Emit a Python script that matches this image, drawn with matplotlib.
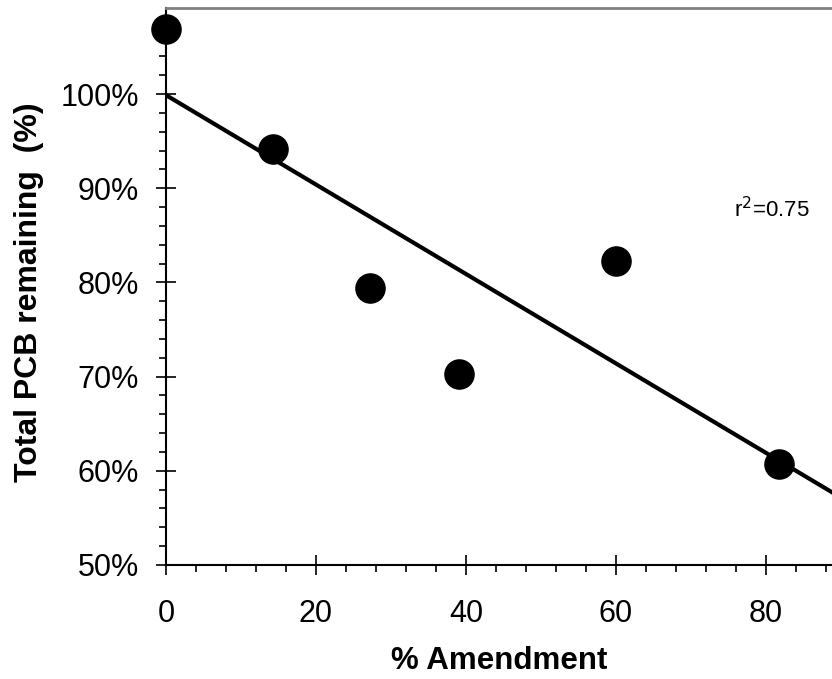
import numpy as np
import matplotlib
matplotlib.use("Agg")
from matplotlib import pyplot as plt
from matplotlib.ticker import MultipleLocator, FuncFormatter

plt.rcParams['font.family'] = ['Liberation Sans', 'DejaVu Sans']

# % amendment vs total PCB remaining (%)
amendment = [0, 14.3, 27.2, 39.1, 60.0, 81.7]
pcb_remaining = [106.9, 94.2, 79.4, 70.3, 82.3, 60.7]
r2_text = "r$^2$=0.75"

fig = plt.figure(figsize=(8.32, 6.79), dpi=100)
ax = fig.add_axes([166 / 832, 1 - 565 / 679, 1 - 166 / 832, (565 - 7.5) / 679])

xmax = 88.8
slope, intercept = np.polyfit(amendment, pcb_remaining, 1)
xfit = np.array([0, xmax])
ax.plot(xfit, intercept + slope * xfit, color="black", lw=3, zorder=2)
ax.plot(amendment, pcb_remaining, "o", color="black", ms=21, zorder=3, clip_on=False)

ax.text(75.8, 86.9, r2_text, fontsize=16, ha="left", va="baseline")

ax.set_xlim(0, xmax)
ax.set_ylim(50, 109.2)
ax.xaxis.set_major_locator(MultipleLocator(20))
ax.xaxis.set_minor_locator(MultipleLocator(4))
ax.yaxis.set_major_locator(MultipleLocator(10))
ax.yaxis.set_minor_locator(MultipleLocator(2))
ax.yaxis.set_major_formatter(FuncFormatter(lambda v, p: "{:.0f}%".format(v)))

ax.tick_params(which="major", direction="inout", length=15, width=1.2, labelsize=22)
ax.tick_params(axis="x", which="major", pad=17)
ax.tick_params(axis="y", which="major", pad=12)
ax.tick_params(which="minor", direction="out", length=5, width=1.2)
ax.tick_params(top=False, right=False, which="both")

for s in ["left", "bottom"]:
    ax.spines[s].set_linewidth(1.5)
ax.spines["top"].set_color("#808080")
ax.spines["top"].set_linewidth(2)
ax.spines["right"].set_visible(False)

ax.set_xlabel("% Amendment", fontsize=22.5, fontweight="bold", labelpad=12)
ax.set_ylabel("Total PCB remaining  (%)", fontsize=23, fontweight="bold")
ax.yaxis.set_label_coords((44 - 166) / 666, 0.49)

fig.savefig("out.png", dpi=100)
